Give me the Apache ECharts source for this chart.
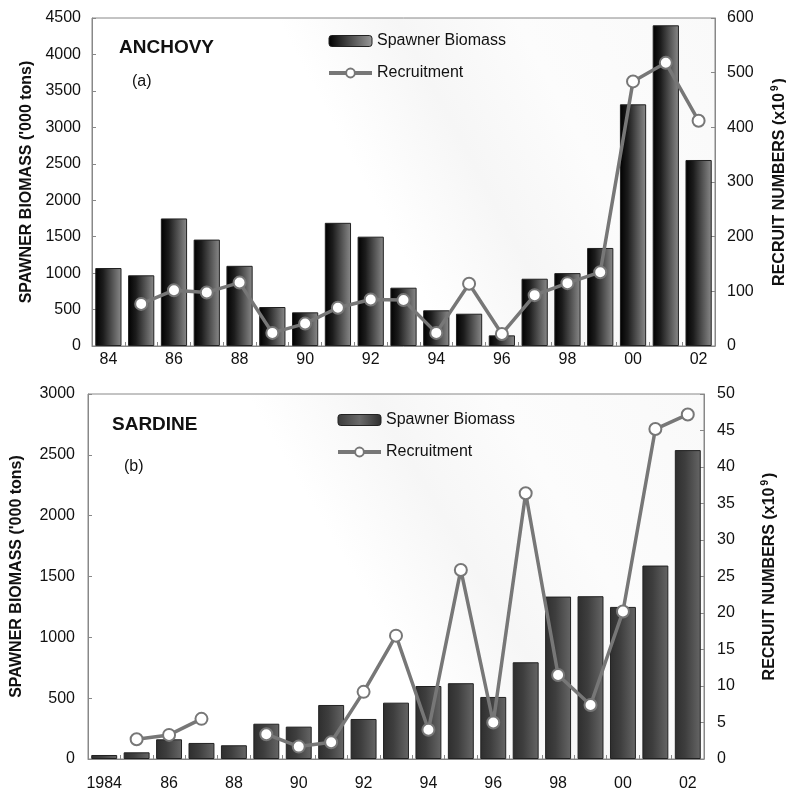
<!DOCTYPE html>
<html>
<head>
<meta charset="utf-8">
<script src="https://cdn.jsdelivr.net/npm/echarts@6/dist/echarts.min.js"></script>
<style>
  html, body { margin: 0; padding: 0; background: #fff; }
  #chart { width: 786px; height: 792px; }
</style>
</head>
<body>
<div id="chart"></div>
<script>
// Years on the category axes
const anchovyYears = ['84','85','86','87','88','89','90','91','92','93','94','95','96','97','98','99','00','01','02'];
const sardineYears = ['1984','85','86','87','88','89','90','91','92','93','94','95','96','97','98','99','00','01','02'];

// Anchovy: spawner biomass ('000 tons) and recruitment (x10^9)
const anchovyBiomass = [1070, 970, 1750, 1460, 1100, 535, 462, 1690, 1500, 800, 490, 443, 146, 923, 1000, 1345, 3316, 4400, 2552];
const anchovyRecruits = [null, 77, 102, 98, 116, 24, 41, 70, 85, 84, 24, 114, 22, 93, 115, 135, 484, 518, 412];

// Sardine: spawner biomass ('000 tons) and recruitment (x10^9)
const sardineBiomass = [33, 55, 162, 132, 113, 290, 266, 444, 329, 463, 600, 623, 510, 795, 1335, 1338, 1250, 1590, 2539];
const sardineRecruits = [null, 2.7, 3.3, 5.5, null, 3.4, 1.7, 2.3, 9.2, 16.9, 4.0, 25.9, 5.0, 36.4, 11.5, 7.4, 20.2, 45.2, 47.2];

// Tick ranges
const anchovyLeftMax = 4500, anchovyLeftStep = 500;
const anchovyRightMax = 600, anchovyRightStep = 100;
const sardineLeftMax = 3000, sardineLeftStep = 500;
const sardineRightMax = 50, sardineRightStep = 5;

const FONT = '"Liberation Sans", Arial, sans-serif';
const INK = '#111';
const LINE = '#777';

// Bar shading runs across the bar width
const anchovyFill = {
  type: 'linear', x: 0, y: 0, x2: 1, y2: 0,
  colorStops: [{ offset: 0, color: '#000' }, { offset: 0.3, color: '#1c1c1c' }, { offset: 1, color: '#8a8a8a' }]
};
const sardineFill = {
  type: 'linear', x: 0, y: 0, x2: 1, y2: 0,
  colorStops: [{ offset: 0, color: '#2e2e2e' }, { offset: 0.4, color: '#3e3e3e' }, { offset: 1, color: '#666' }]
};
const plotHaze = {
  type: 'linear', x: 0, y: 1, x2: 1, y2: 0,
  colorStops: [
    { offset: 0, color: '#ffffff' },
    { offset: 0.45, color: '#ffffff' },
    { offset: 0.6, color: '#f6f6f6' },
    { offset: 0.75, color: '#fcfcfc' },
    { offset: 1, color: '#f9f9f9' }
  ]
};

function valueAxis(gridIndex, max, step, position, nameText, nameGap, margin) {
  return {
    type: 'value', gridIndex, position, min: 0, max, interval: step,
    name: nameText, nameLocation: 'middle', nameGap, nameRotate: 90, nameMoveOverlap: false,
    nameTextStyle: {
      fontFamily: FONT, fontSize: 16, fontWeight: 'bold', color: INK,
      rich: { s: { fontFamily: FONT, fontSize: 10, fontWeight: 'bold', color: INK, verticalAlign: 'top', padding: [0, 2, 9, 2] } }
    },
    axisLine: { show: true, lineStyle: { color: '#888', width: 1 } },
    axisTick: { show: true, inside: true, length: 4, lineStyle: { color: '#888' } },
    axisLabel: { fontFamily: FONT, fontSize: 16, color: INK, margin, formatter: v => String(v) },
    splitLine: { show: false }
  };
}

function categoryAxis(gridIndex, data, margin) {
  return {
    type: 'category', gridIndex, data,
    axisLine: { show: true, lineStyle: { color: '#888', width: 1 } },
    axisTick: { show: true, inside: true, length: 4, interval: 0, lineStyle: { color: '#888' } },
    axisLabel: { fontFamily: FONT, fontSize: 16, color: INK, interval: 1, margin }
  };
}

function lineSeries(x, y, data) {
  return {
    name: 'Recruitment', type: 'line', xAxisIndex: x, yAxisIndex: y, data,
    connectNulls: false, symbol: 'circle', symbolSize: 12, z: 5,
    emphasis: { disabled: true },
    lineStyle: { color: LINE, width: 3.5 },
    itemStyle: { color: '#fff', borderColor: LINE, borderWidth: 2 }
  };
}

function barSeries(x, y, data, fill) {
  return {
    name: 'Spawner Biomass', type: 'bar', xAxisIndex: x, yAxisIndex: y, data,
    barCategoryGap: '20%', emphasis: { disabled: true },
    itemStyle: { color: fill, borderColor: '#222', borderWidth: 1 }
  };
}

function legendBlock(left, top, barIconFill) {
  return {
    orient: 'vertical', left, top, padding: 0, itemWidth: 43, itemHeight: 11, itemGap: 16,
    textStyle: { fontFamily: FONT, fontSize: 16, color: INK },
    data: [
      { name: 'Spawner Biomass', itemStyle: { color: barIconFill, borderColor: '#222', borderWidth: 1 } },
      { name: 'Recruitment', lineStyle: { color: LINE, width: 4 }, itemStyle: { color: '#fff', borderColor: LINE, borderWidth: 2 } }
    ]
  };
}

const chart = echarts.init(document.getElementById('chart'), null, { renderer: 'canvas' });

chart.setOption({
  backgroundColor: '#fff',
  animation: false,
  grid: [
    { left: 92, right: 71, top: 18, height: 328, outerBoundsMode: 'none', show: true, borderColor: '#888', borderWidth: 1, backgroundColor: plotHaze },
    { left: 88, right: 82, top: 394, height: 365, outerBoundsMode: 'none', show: true, borderColor: '#888', borderWidth: 1, backgroundColor: plotHaze }
  ],
  legend: [
    legendBlock(327, 33, { type: 'linear', x: 0, y: 0, x2: 1, y2: 0, colorStops: [{ offset: 0, color: '#000' }, { offset: 1, color: '#9a9a9a' }] }),
    legendBlock(336, 412, { type: 'linear', x: 0, y: 0, x2: 1, y2: 0, colorStops: [{ offset: 0, color: '#3a3a3a' }, { offset: 0.5, color: '#6a6a6a' }, { offset: 1, color: '#2e2e2e' }] })
  ],
  xAxis: [
    categoryAxis(0, anchovyYears, 6),
    categoryAxis(1, sardineYears, 17)
  ],
  yAxis: [
    valueAxis(0, anchovyLeftMax, anchovyLeftStep, 'left', "SPAWNER BIOMASS ('000 tons)", 57, 11),
    valueAxis(0, anchovyRightMax, anchovyRightStep, 'right', 'RECRUIT NUMBERS (x10{s|9})', 55, 12),
    valueAxis(1, sardineLeftMax, sardineLeftStep, 'left', "SPAWNER BIOMASS ('000 tons)", 63, 13),
    valueAxis(1, sardineRightMax, sardineRightStep, 'right', 'RECRUIT NUMBERS (x10{s|9})', 56, 13)
  ],
  series: [
    barSeries(0, 0, anchovyBiomass, anchovyFill),
    lineSeries(0, 1, anchovyRecruits),
    barSeries(1, 2, sardineBiomass, sardineFill),
    lineSeries(1, 3, sardineRecruits)
  ],
  graphic: [
    { type: 'text', left: 119, top: 38, style: { text: 'ANCHOVY', font: 'bold 19px ' + FONT, fill: INK } },
    { type: 'text', left: 132, top: 74, style: { text: '(a)', font: '16px ' + FONT, fill: INK } },
    { type: 'text', left: 112, top: 415, style: { text: 'SARDINE', font: 'bold 19px ' + FONT, fill: INK } },
    { type: 'text', left: 124, top: 459, style: { text: '(b)', font: '16px ' + FONT, fill: INK } }
  ]
});
</script>
</body>
</html>
